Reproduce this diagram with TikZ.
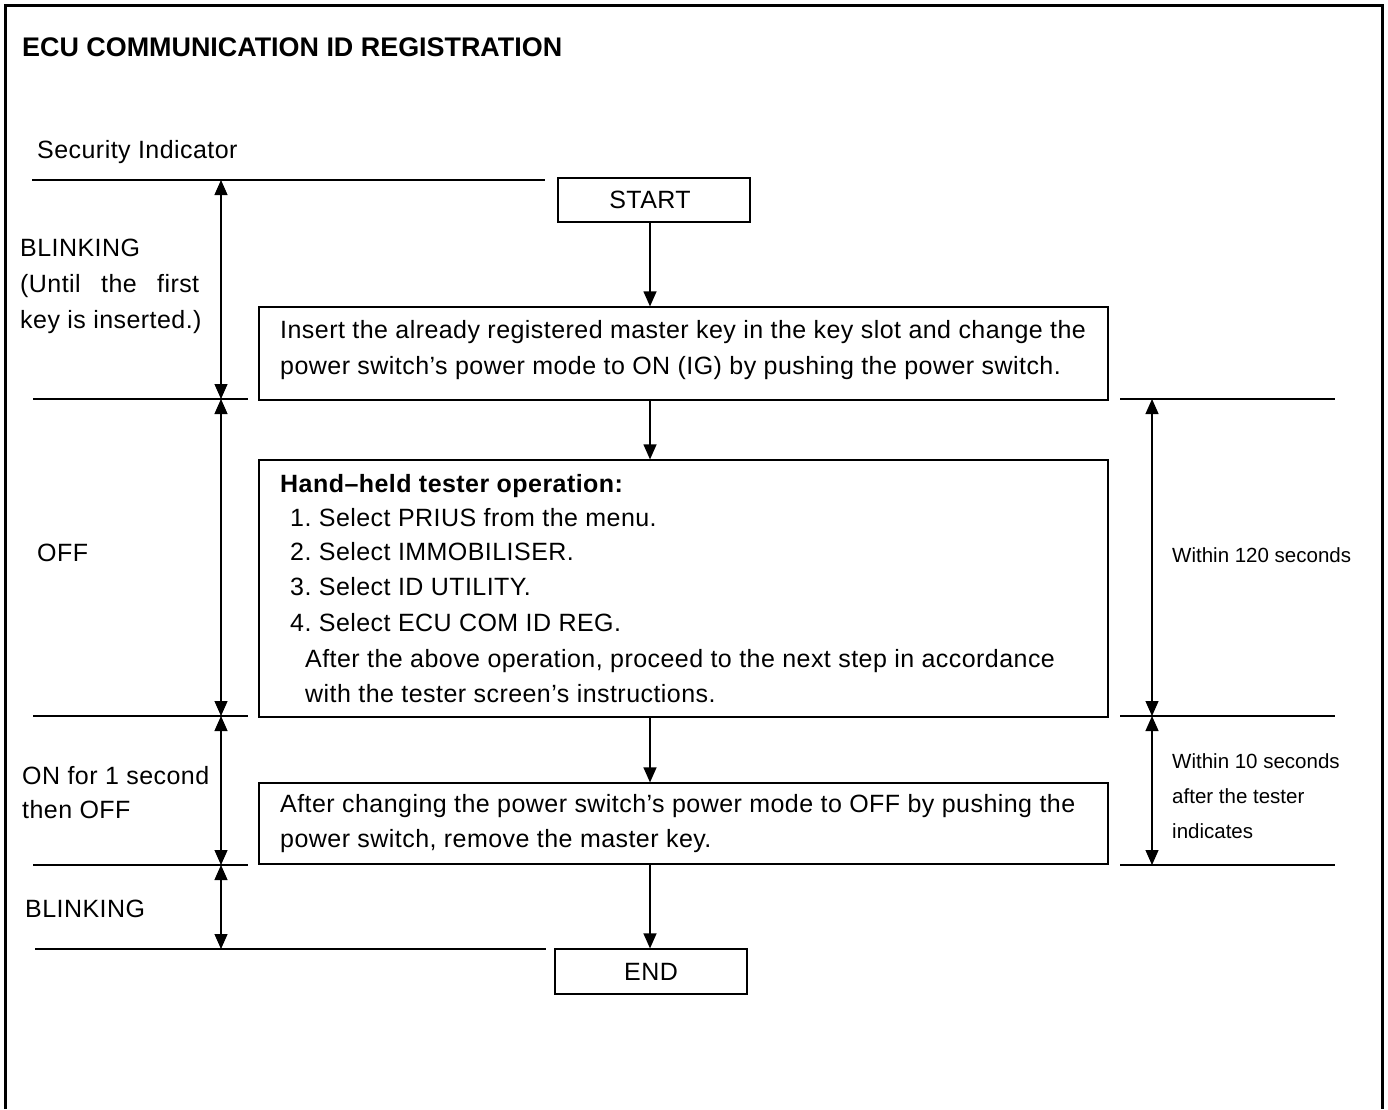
\documentclass[tikz,border=0pt]{standalone}
\usepackage{fontspec}
\setmainfont{Liberation Sans}
\newfontfamily\bodyfam{Liberation Sans}[LetterSpace=1.8]
\usetikzlibrary{arrows.meta}
\frenchspacing
\newcommand\bodyfont{\bodyfam\fontsize{25}{30}\selectfont}
\newcommand\smallfnt{\fontsize{20.5}{24}\selectfont}
\newcommand\titlefnt{\fontsize{26.9}{30}\selectfont\bfseries}
\begin{document}
\begin{tikzpicture}[x=1pt,y=-1pt,
  ln/.style={line width=1.2pt,draw=black},
  frame/.style={line width=3pt,draw=black},
  boxnode/.style={draw=black,line width=1.2pt,inner sep=0pt,font=\bodyfont},
  txt/.style={anchor=base west,inner sep=0pt,font=\bodyfont},
  stxt/.style={anchor=base west,inner sep=0pt,font=\smallfnt},
  arr/.style={ln,-{Triangle[length=15pt,width=13pt]}},
  darr/.style={ln,{Triangle[length=15pt,width=13pt]}-{Triangle[length=15pt,width=13pt]}}]
\useasboundingbox (0,0) rectangle (1388,1109);
% frame (open at bottom)
\draw[frame] (5,1109) -- (5,5) -- (1382,5) -- (1382,1109);
% title
\node[anchor=base west,inner sep=0pt,font=\titlefnt] (title) at (22,56) {ECU COMMUNICATION ID REGISTRATION};
\node[txt] (secind) at (37,158) {Security Indicator};
% horizontal level lines
\draw[ln] (32,180) -- (545,180);
\draw[ln] (33,399) -- (248,399);
\draw[ln] (33,716) -- (248,716);
\draw[ln] (33,865) -- (248,865);
\draw[ln] (35,949) -- (546,949);
\draw[ln] (1120,399) -- (1335,399);
\draw[ln] (1120,716) -- (1335,716);
\draw[ln] (1120,865) -- (1335,865);
% boxes
\node[boxnode,minimum width=192pt,minimum height=44pt] (start) at (654,200) {\hspace*{-8pt}START};
\node[boxnode,minimum width=849pt,minimum height=93pt] (b1) at (683.5,353.5) {};
\node[boxnode,minimum width=849pt,minimum height=257pt] (b2) at (683.5,588.5) {};
\node[boxnode,minimum width=849pt,minimum height=81pt] (b3) at (683.5,823.5) {};
\node[boxnode,minimum width=192pt,minimum height=45pt] (end) at (651,971.5) {END};
% flow arrows
\coordinate (ax) at (650,0);
\draw[arr] (start.south -| ax) -- (b1.north -| ax);
\draw[arr] (b1.south -| ax) -- (b2.north -| ax);
\draw[arr] (b2.south -| ax) -- (b3.north -| ax);
\draw[arr] (b3.south -| ax) -- (end.north -| ax);
% box texts
\node[txt] (b1a) at (280,338) {Insert the already registered master key in the key slot and change the};
\node[txt] (b1b) at (280,374) {power switch’s power mode to ON (IG) by pushing the power switch.};
\node[txt,font=\bodyfont\bfseries] (b2a) at (280,492) {Hand–held tester operation:};
\node[txt] (b2b) at (290,526) {1. Select PRIUS from the menu.};
\node[txt] (b2c) at (290,560) {2. Select IMMOBILISER.};
\node[txt] (b2d) at (290,595) {3. Select ID UTILITY.};
\node[txt] (b2e) at (290,631) {4. Select ECU COM ID REG.};
\node[txt] (b2f) at (305,667) {After the above operation, proceed to the next step in accordance};
\node[txt] (b2g) at (305,702) {with the tester screen’s instructions.};
\node[txt] (b3a) at (280,812) {After changing the power switch’s power mode to OFF by pushing the};
\node[txt] (b3b) at (280,847) {power switch, remove the master key.};
% left indicator arrows
\coordinate (L0) at (221,180);
\coordinate (L1) at (221,399);
\coordinate (L2) at (221,716);
\coordinate (L3) at (221,865);
\coordinate (L4) at (221,949);
\draw[darr] (L0) -- (L1);
\draw[darr] (L1) -- (L2);
\draw[darr] (L2) -- (L3);
\draw[darr] (L3) -- (L4);
% right time arrows
\coordinate (R1) at (1152,399);
\coordinate (R2) at (1152,716);
\coordinate (R3) at (1152,865);
\draw[darr] (R1) -- (R2);
\draw[darr] (R2) -- (R3);
% left labels
\node[txt] (la1) at (20,256) {BLINKING};
\node[txt] (la2) at (20,292) {\makebox[179pt][s]{(Until the first}};
\node[txt] (la3) at (20,328) {key is inserted.)};
\node[txt] (lb) at (37,561) {OFF};
\node[txt] (lc1) at (22,784) {ON for 1 second};
\node[txt] (lc2) at (22,818) {then OFF};
\node[txt] (ld) at (25,917) {BLINKING};
% right labels
\node[stxt] (ra) at (1172,562) {Within 120 seconds};
\node[stxt] (rb1) at (1172,768) {Within 10 seconds};
\node[stxt] (rb2) at (1172,803) {after the tester};
\node[stxt] (rb3) at (1172,838) {indicates};
\end{tikzpicture}
\end{document}
